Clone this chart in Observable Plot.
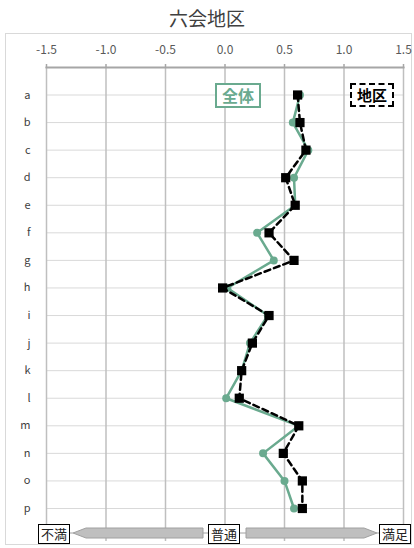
<!DOCTYPE html>
<html><head><meta charset="utf-8">
<script src="https://cdn.jsdelivr.net/npm/d3@7"></script>
<script src="https://cdn.jsdelivr.net/npm/@observablehq/plot@0.6"></script>
<style>
body{margin:0;background:#fff;font-family:"Noto Sans CJK JP","Noto Sans",sans-serif;}
#wrap{position:relative;width:414px;height:548px;overflow:hidden;background:#fff;}
#title{position:absolute;left:0;top:0;width:414px;height:33px;text-align:center;font-size:19px;line-height:36px;color:#404040;}
#frame{position:absolute;left:5px;top:33px;width:407px;height:512px;border:1px solid #d9d9d9;box-sizing:border-box;}
#chart{position:absolute;left:0;top:33px;}
#chart svg{display:block;}
.lg{position:absolute;box-sizing:border-box;background:#fff;text-align:center;font-weight:bold;}
.bx{position:absolute;box-sizing:border-box;background:#fff;border:1px solid #000;font-size:13px;line-height:17px;text-align:center;color:#222;}
#arrow{position:absolute;left:0;top:0;}
</style></head>
<body>
<div id="wrap">
  <div id="frame"></div>
  <div id="title">六会地区</div>
  <div id="chart"></div>
  <div class="lg" style="left:215px;top:83px;width:46px;height:25px;border:2px solid #6aaa8f;color:#6aaa8f;font-size:16px;line-height:21px;">全体</div>
  <div class="lg" style="left:350px;top:83px;width:44px;height:24px;border:2px dashed #000;color:#000;font-size:15px;line-height:20px;">地区</div>
  <svg id="arrow" width="414" height="548">
    <line x1="203" y1="533" x2="208" y2="533" stroke="#a0a0a0"/>
    <line x1="240" y1="533" x2="246" y2="533" stroke="#a0a0a0"/>
    <line x1="69" y1="533" x2="73" y2="533" stroke="#a0a0a0"/>
    <line x1="377" y1="533" x2="379" y2="533" stroke="#a0a0a0"/>
    <polygon points="73,533 86,528 203,528 203,538 86,538" fill="#bfbfbf" stroke="#a0a0a0"/>
    <polygon points="246,528 364,528 377,533 364,538 246,538" fill="#bfbfbf" stroke="#a0a0a0"/>
  </svg>
  <div class="bx" style="left:38px;top:524px;width:32px;height:20px;">不満</div>
  <div class="bx" style="left:208px;top:524px;width:32px;height:20px;">普通</div>
  <div class="bx" style="left:379px;top:524px;width:32px;height:20px;">満足</div>
</div>
<script>
const rows = ["a","b","c","d","e","f","g","h","i","j","k","l","m","n","o","p"];
const zentai = [0.63,0.57,0.70,0.58,0.59,0.27,0.41,0.02,0.36,0.21,0.14,0.01,0.62,0.32,0.50,0.58];
const chiku  = [0.61,0.63,0.68,0.51,0.59,0.37,0.58,-0.02,0.37,0.23,0.14,0.12,0.62,0.49,0.65,0.65];
const xTicks = [-1.5,-1.0,-0.5,0.0,0.5,1.0,1.5];

const data = rows.map((r,i)=>({row:r, zentai:zentai[i], chiku:chiku[i]}));

const chart = Plot.plot({
  width:414, height:512,
  marginLeft:46, marginRight:11, marginTop:34, marginBottom:4,
  style:{fontFamily:'"Noto Sans CJK JP","Noto Sans",sans-serif', background:"transparent"},
  x:{domain:[-1.5,1.5]},
  y:{type:"point", domain:rows, padding:0, round:false, insetTop:27.5, insetBottom:33},
  marks:[
    Plot.gridY(rows,{stroke:"#d9d9d9", strokeOpacity:1, strokeWidth:1}),
    Plot.gridX(xTicks,{stroke:"#bfbfbf", strokeOpacity:1, strokeWidth:1.5}),
    Plot.frame({anchor:"top", stroke:"#a6a6a6", strokeWidth:2}),
    Plot.axisX(xTicks,{anchor:"top", tickFormat:d=>d.toFixed(1), tickSize:4, tickPadding:10, stroke:"#a6a6a6", strokeWidth:1.5, fill:"#595959", fontSize:12, label:null}),
    Plot.axisY(rows,{anchor:"left", tickSize:0, tickPadding:16, fill:"#404040", fontSize:11, label:null}),
    Plot.line(data,{x:"zentai", y:"row", stroke:"#6aaa8f", strokeWidth:2.5}),
    Plot.dot(data,{x:"zentai", y:"row", r:4, fill:"#6aaa8f", stroke:null}),
    Plot.line(data,{x:"chiku", y:"row", stroke:"#000", strokeWidth:2.5, strokeDasharray:"6,4"}),
    Plot.dot(data,{x:"chiku", y:"row", symbol:"square", r:5.2, fill:"#000", stroke:null})
  ]
});
document.getElementById("chart").appendChild(chart);
</script>
</body></html>
